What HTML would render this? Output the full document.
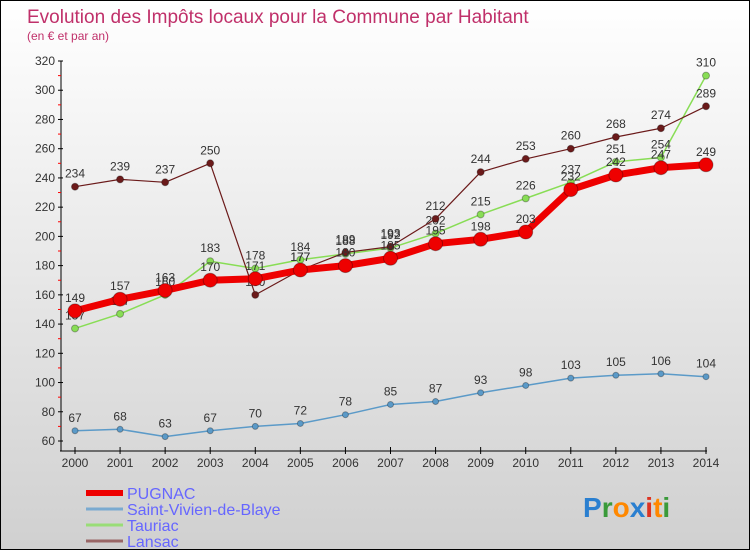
<!DOCTYPE html>
<html><head><meta charset="utf-8"><style>
body{margin:0;width:750px;height:550px;overflow:hidden;font-family:"Liberation Sans",sans-serif}
#wrap{position:relative;width:748px;height:548px;border:1px solid #000;background:linear-gradient(#ffffff,#d0d0d0)}
</style></head><body>
<div id="wrap">
<svg id="chart" width="748" height="548" xmlns="http://www.w3.org/2000/svg"></svg>
</div>
<script>
const years=[2000,2001,2002,2003,2004,2005,2006,2007,2008,2009,2010,2011,2012,2013,2014];
const yTicks=[60,80,100,120,140,160,180,200,220,240,260,280,300,320];
const pugnac=[149,157,163,170,171,177,180,185,195,198,203,232,242,247,249];
const stVivien=[67,68,63,67,70,72,78,85,87,93,98,103,105,106,104];
const tauriac=[137,147,160,183,178,184,188,192,202,215,226,237,251,254,310];
const lansac=[234,239,237,250,160,177,189,193,212,244,253,260,268,274,289];
const NS="http://www.w3.org/2000/svg";
const svg=document.getElementById('chart');
const X=i=>74+i*(705-74)/(years.length-1);
const Y=v=>440-(v-60)*(380/260);
function el(t,a,p){const e=document.createElementNS(NS,t);for(const k in a)e.setAttribute(k,a[k]);(p||svg).appendChild(e);return e;}
function txt(x,y,s,a){const e=el('text',Object.assign({x:x,y:y,'font-size':12,fill:'#333'},a||{}));e.textContent=s;return e;}
// title
let t=txt(26,22,'Evolution des Impôts locaux pour la Commune par Habitant',{'font-size':19,fill:'#c0306a'});


t=txt(26,39,'(en € et par an)',{'font-size':12,fill:'#c0306a'});


// axes
let ax=el('line',{x1:60,y1:60,x2:60,y2:450,stroke:'#000','stroke-width':1});


ax=el('line',{x1:59,y1:450,x2:706,y2:450,stroke:'#000','stroke-width':1});


yTicks.forEach((v,i)=>{
  el('line',{x1:57,y1:Y(v),x2:62,y2:Y(v),stroke:'#000'});
  if(i<yTicks.length-1)el('line',{x1:57,y1:Y(v+10),x2:60,y2:Y(v+10),stroke:'#f00'});
  const l=txt(54,Y(v)+4,String(v),{'text-anchor':'end'});
  
  
});
years.forEach((y,i)=>{
  el('line',{x1:X(i),y1:446,x2:X(i),y2:453,stroke:'#000'});
  const l=txt(X(i),466,String(y),{'text-anchor':'middle'});
  
  
});
function series(vals,name,color,w,r,labelColor){
  const g=el('g',{});
  
  
  const pl=el('polyline',{points:vals.map((v,i)=>X(i)+','+Y(v)).join(' '),fill:'none',stroke:color,'stroke-width':w,'stroke-linejoin':'round'},g);
  
  
  vals.forEach((v,i)=>{
    const c=el('circle',{cx:X(i),cy:Y(v),r:r,fill:color,stroke:'rgba(0,0,0,0.3)'},g);
    
    
    const l=txt(X(i),Y(v)-9,String(v),{'text-anchor':'middle',fill:'#333'});
    g.appendChild(l);
    
    
  });
}
series(stVivien,'saint-vivien','#5b9ac8',1.5,3,'#333');
series(tauriac,'tauriac','#88dd55',1.5,3.5,'#333');
series(lansac,'lansac','#6b1a1a',1.2,3.5,'#333');
series(pugnac,'pugnac','#ee0000',7,7,'#333');
// legend
const leg=[['PUGNAC','#ee0000',6],['Saint-Vivien-de-Blaye','#7aaad0',3],['Tauriac','#99dd77',3],['Lansac','#996666',3]];
leg.forEach((L,i)=>{
  const y=492+i*16;
  const g=el('g',{});
  
  
  el('line',{x1:85,y1:y,x2:122,y2:y,stroke:L[1],'stroke-width':L[2]},g);
  const l=txt(126,y+6,L[0],{'font-size':16,fill:'#6666ff'});
  g.appendChild(l);
});
// logo
const logo=el('text',{x:582,y:516,'font-size':28,'font-weight':'bold','font-family':'"Liberation Sans",sans-serif'});


[['P','#2a7fd0'],['r','#3a9a3a'],['o','#ff8800'],['x','#2a7fd0'],['i','#dd3322'],['t','#ff8800'],['i','#3a9a3a']].forEach(p=>{
  const s=el('tspan',{fill:p[1]},logo);s.textContent=p[0];
});
</script>
</body></html>
